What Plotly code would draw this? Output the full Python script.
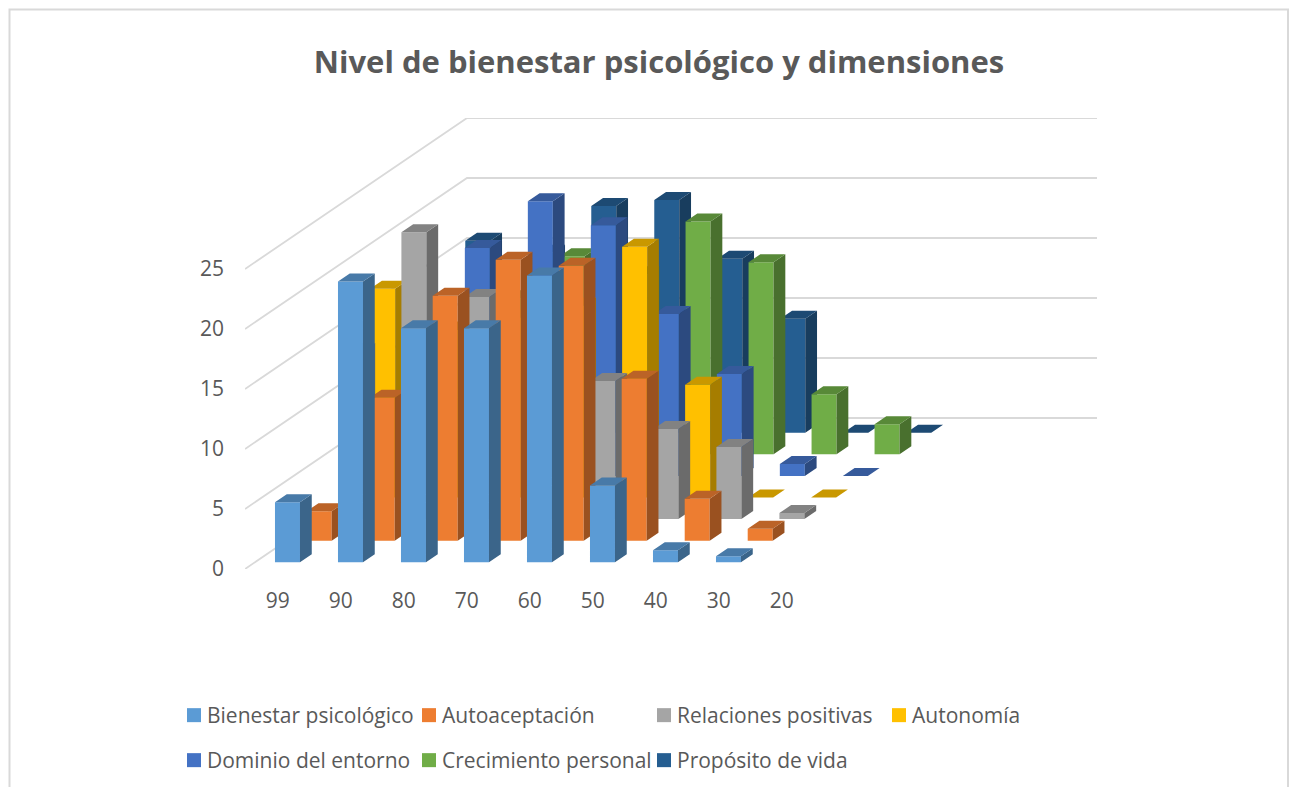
import plotly.graph_objects as go

# ---- data ----
categories = ["99", "90", "80", "70", "60", "50", "40", "30", "20"]
bienestar   = [5.0, 23.4, 19.5, 19.5, 23.9, 6.4, 1.0, 0.5, None]
autoacept   = [2.45, 11.9, 20.4, 23.4, 22.9, 13.5, 3.5, 1.0, None]
relaciones  = [14.0, 23.9, 18.5, 17.0, 11.5, 7.5, 6.0, 0.5, None]
autonomia   = [17.4, 14.0, 15.0, 16.0, 20.9, 9.4, 0.0, 0.0, None]
dominio     = [12.0, 19.0, 22.9, 20.9, 13.5, 8.5, 1.0, 0.0, None]
crecimiento = [10.0, 13.0, 16.5, 15.0, 19.4, 16.0, 5.0, 2.5, None]
proposito   = [16.0, 15.0, 18.9, 19.4, 14.5, 9.5, 0.0, 0.0, None]
series_names = ["Bienestar psicológico", "Autoaceptación", "Relaciones positivas", "Autonomía",
                "Dominio del entorno", "Crecimiento personal", "Propósito de vida"]
series_values = [bienestar, autoacept, relaciones, autonomia, dominio, crecimiento, proposito]
series_colors = ["#5B9BD5", "#ED7D31", "#A5A5A5", "#FFC000", "#4472C4", "#70AD47", "#255E91"]
value_ticks = [0, 5, 10, 15, 20, 25]

# ---- oblique projection of the 3-D column chart onto plain axes ----
W, H = 1297, 787
L, R, T, B = 245, 200, 118, 218
PX_PER_CAT = 63.0
PX_PER_VAL = 12.0
DEPTH_DX = 222 / 7 / PX_PER_CAT   # category units per series slot
DEPTH_DY = 151 / 7 / PX_PER_VAL   # value units per series slot
BAR_W = 25 / 63                   # bar width, share of a category slot
BAR_D = 8 / (151 / 7)             # bar depth, share of a series slot
BAR_SHIFT = 0.016                 # small rightward offset of the columns in their slot
TEXT = "#595959"
GRID = "#D9D9D9"
FONT = "Open Sans"


def proj(c, v, d):
    return c + d * DEPTH_DX, v + d * DEPTH_DY


def shade(hex_color, f):
    r, g, b = (int(hex_color[i:i + 2], 16) for i in (1, 3, 5))
    return f"rgb({r * f:.0f},{g * f:.0f},{b * f:.0f})"


def poly(points):
    xs, ys = zip(*[proj(*p) for p in points])
    return list(xs) + [xs[0], None], list(ys) + [ys[0], None]


fig = go.Figure()

# back walls: grid lines running from the front-left corner to the back and across
n_depth = len(series_names)
x_end = (W - R - L) / PX_PER_CAT
for t in value_ticks:
    x0, y0 = proj(0, t, 0)
    x1, y1 = proj(0, t, n_depth)
    fig.add_trace(go.Scatter(x=[x0, x1, x_end], y=[y0, y1, y1], mode="lines",
                             line=dict(color=GRID, width=1.8), cliponaxis=False,
                             hoverinfo="skip", showlegend=False))


def add_faces(xy, color, name):
    fig.add_trace(go.Scatter(x=xy[0], y=xy[1], mode="lines", fill="toself", fillcolor=color,
                             line=dict(width=0, color=color), cliponaxis=False,
                             name=name, hoverinfo="skip", showlegend=False))


# columns, back series first so nearer ones cover them
for s in reversed(range(n_depth)):
    name, vals, col = series_names[s], series_values[s], series_colors[s]
    front = ([], [])
    side = ([], [])
    top = ([], [])
    d0 = s + (1 - BAR_D) / 2
    d1 = d0 + BAR_D
    for i, v in enumerate(vals):
        if v is None:
            continue
        c0 = i + (1 - BAR_W) / 2 + BAR_SHIFT
        c1 = c0 + BAR_W
        for store, pts in (
            (front, [(c0, 0, d0), (c1, 0, d0), (c1, v, d0), (c0, v, d0)]),
            (side, [(c1, 0, d0), (c1, 0, d1), (c1, v, d1), (c1, v, d0)]),
            (top, [(c0, v, d0), (c1, v, d0), (c1, v, d1), (c0, v, d1)]),
        ):
            px, py = poly(pts)
            store[0].extend(px)
            store[1].extend(py)
    add_faces(front, col, name)
    add_faces(side, shade(col, 0.65), name)
    add_faces(top, shade(col, 0.79), name)

# legend entries, in two rows
for s, name in enumerate(series_names):
    fig.add_trace(go.Scatter(x=[None], y=[None], mode="markers", name=name,
                             marker=dict(symbol="square", size=14, color=series_colors[s]),
                             legend="legend" if s < 4 else "legend2"))


def leg_pos(px, py):
    return dict(x=(px - L) / (W - L - R), y=(H - B - py) / (H - T - B),
                xanchor="left", yanchor="middle", orientation="h",
                entrywidth=190, entrywidthmode="pixels", bgcolor="rgba(0,0,0,0)",
                font=dict(family=FONT, size=21, color=TEXT))


frac_x = lambda px: (px - L) / (W - L - R)
frac_y = lambda py: (H - B - py) / (H - T - B)

fig.update_layout(
    width=W, height=H, autosize=False,
    margin=dict(l=L, r=R, t=T, b=B, autoexpand=False),
    paper_bgcolor="white", plot_bgcolor="white",
    font=dict(family=FONT, color=TEXT),
    title=dict(text="Nivel de bienestar psicológico y dimensiones", xref="container", yref="container",
               x=659 / W, y=1 - 62 / H, xanchor="center", yanchor="middle",
               font=dict(family=FONT, size=31, weight=700, color=TEXT)),
    xaxis=dict(range=[0, x_end], tickmode="array",
               tickvals=[i + 0.52 for i in range(len(categories))], ticktext=categories,
               showgrid=False, zeroline=False, showline=False, ticks="",
               ticklabelstandoff=17, tickfont=dict(family=FONT, size=21, color=TEXT)),
    yaxis=dict(range=[0, (H - T - B) / PX_PER_VAL], tickmode="array", tickvals=value_ticks,
               showgrid=False, zeroline=False, showline=False, ticks="",
               ticklabelstandoff=20, tickfont=dict(family=FONT, size=21, color=TEXT)),
    legend=leg_pos(167, 715.5),
    legend2=leg_pos(167, 760.5),
    shapes=[dict(type="rect", xref="paper", yref="paper", x0=frac_x(9.5), x1=frac_x(1288),
                 y0=frac_y(820), y1=frac_y(9.5), line=dict(color=GRID, width=2),
                 fillcolor="rgba(0,0,0,0)", layer="below")],
)

fig.write_html("out.html", config={"displayModeBar": False},
               post_script="document.body.style.margin='0';"
                           "document.querySelectorAll('.legendsymbols').forEach("
                           "function(e){e.setAttribute('transform','translate(7,0)');});")
